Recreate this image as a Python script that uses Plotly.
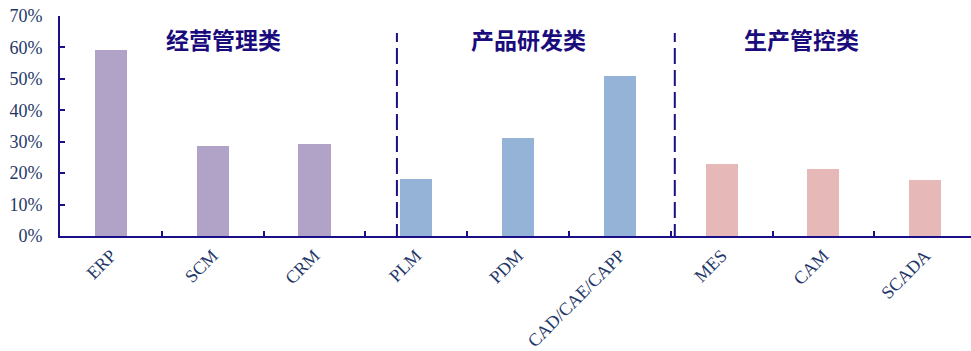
import plotly.graph_objects as go

categories = ["ERP", "SCM", "CRM", "PLM", "PDM", "CAD/CAE/CAPP", "MES", "CAM", "SCADA"]
values = [0.593, 0.287, 0.293, 0.181, 0.312, 0.510, 0.229, 0.213, 0.178]
groups = ["经营管理类", "产品研发类", "生产管控类"]
group_colors = ["#b1a3c8", "#95b3d7", "#e6b9b8"]
bar_colors = [group_colors[0]] * 3 + [group_colors[1]] * 3 + [group_colors[2]] * 3
y_ticks = [0, 0.1, 0.2, 0.3, 0.4, 0.5, 0.6, 0.7]
y_tick_labels = ["0%", "10%", "20%", "30%", "40%", "50%", "60%", "70%"]

AXIS = "#1b0f86"
TXT = "#1f3868"
TITLE = "#1a0c7c"

fig = go.Figure()
fig.add_trace(go.Bar(
    x=list(range(len(categories))), y=values,
    marker=dict(color=bar_colors, line=dict(width=0)),
    width=0.315,
))

# group separators (dashed)
for xs in [2.81, 5.54]:
    fig.add_shape(type="line", xref="x", yref="y", x0=xs, x1=xs, y0=-0.013, y1=0.646,
                  line=dict(color=AXIS, width=2, dash="16px,6px"))

for gx, g in zip([1.11, 4.10, 6.78], groups):
    fig.add_annotation(x=gx, y=0.627, xref="x", yref="y", text="<b>" + g + "</b>",
                       showarrow=False, xanchor="center", yanchor="middle",
                       font=dict(family="Noto Sans CJK SC", size=23, color=TITLE))

fig.update_layout(
    width=971, height=351,
    margin=dict(l=60, r=0, t=16, b=115),
    plot_bgcolor="white", paper_bgcolor="white",
    showlegend=False,
    bargap=0,
)
fig.update_xaxes(
    range=[-0.5, 8.45],
    tickmode="array", tickvals=list(range(len(categories))), ticktext=categories,
    tickangle=-45,
    showline=True, linecolor=AXIS, linewidth=2,
    ticks="", showgrid=False, zeroline=False,
    ticklabelstandoff=0,
    tickfont=dict(family="Liberation Serif", size=18, color=TXT),
)
# boundary ticks via minor ticks
fig.update_xaxes(minor=dict(tickmode="array", tickvals=[0.5, 1.5, 2.5, 3.5, 4.5, 5.5, 6.5, 7.5],
                            ticks="inside", ticklen=5, tickcolor=AXIS, tickwidth=2, showgrid=False))
fig.update_yaxes(
    range=[0, 0.7],
    tickmode="array", tickvals=y_ticks, ticktext=y_tick_labels,
    showline=True, linecolor=AXIS, linewidth=2,
    ticks="inside", ticklen=5, tickcolor=AXIS, tickwidth=2,
    showgrid=False, zeroline=False,
    ticklabelstandoff=12,
    tickfont=dict(family="Liberation Serif", size=18, color=TXT),
)

fig.write_html("out.html")
